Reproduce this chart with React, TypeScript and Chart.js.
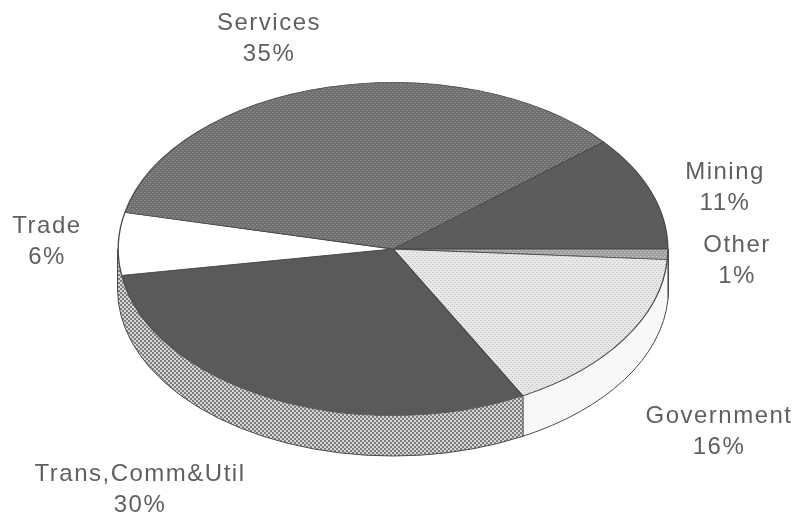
import { useEffect, useRef } from "react";
import { Chart, registerables } from "chart.js";

Chart.register(...registerables);

// Industry shares, in percent, clockwise from the Services/Mining edge.
const industries = ["Mining", "Other", "Government", "Trans,Comm&Util", "Trade", "Services"];
const shares = [11, 1, 16, 30, 6, 35];

// Centre of each two-line caption and the baseline of its first line.
const captionAnchors = [
  [725, 179],
  [737, 252],
  [719, 423],
  [140, 481],
  [47, 233],
  [269, 30],
];

const WIDTH = 797;
const HEIGHT = 515;
const CX = 393;
const CY = 249;
const RX = 275.5;
const RY = 167;
const DEPTH = 40;
const PAD_RADIUS = 249;
const SX = RX / PAD_RADIUS;
const SY = RY / PAD_RADIUS;

// Builds a small halftone tile: a base grey with a regular dot grid on top.
function halftone(base: string, dot: string, dotSize: number, undoScale: boolean) {
  const tile = document.createElement("canvas");
  tile.width = 4;
  tile.height = 4;
  const t = tile.getContext("2d")!;
  t.fillStyle = base;
  t.fillRect(0, 0, 4, 4);
  t.fillStyle = dot;
  t.fillRect(0, 0, dotSize, dotSize);
  t.fillRect(2, 2, dotSize, dotSize);
  const pattern = t.createPattern(tile, "repeat")!;
  if (undoScale) pattern.setTransform(new DOMMatrix().scale(1 / SX, 1 / SY));
  return pattern;
}

export default function App() {
  const ref = useRef<HTMLCanvasElement>(null);

  useEffect(() => {
    const canvas = ref.current!;
    const topFills = [
      "#5c5c5c",
      halftone("#a0a0a0", "#d8d8d8", 1, true),
      halftone("#e8e8e8", "#b8b8b8", 1, true),
      "#5a5a5a",
      "#ffffff",
      halftone("#707070", "#9e9e9e", 1, true),
    ];
    const stipple = halftone("#d6d6d6", "#7c7c7c", 2, false);
    const sideFills = ["#ffffff", "#fbfbfb", "#f8f8f8", stipple, stipple, stipple];

    const extruded = {
      id: "extruded",
      beforeDatasetsDraw(chart: Chart) {
        const ctx = chart.ctx;
        const arcs = chart.getDatasetMeta(0).data as any[];
        ctx.strokeStyle = "#4a4a4a";
        ctx.lineWidth = 1;
        // Rim below the front half of the disc.
        arcs.forEach((arc, i) => {
          const start = Math.max(arc.startAngle, 0);
          const end = Math.min(arc.endAngle, Math.PI);
          if (start >= end) return;
          ctx.beginPath();
          ctx.ellipse(CX, CY, RX, RY, 0, start, end);
          ctx.ellipse(CX, CY + DEPTH, RX, RY, 0, end, start, true);
          ctx.closePath();
          ctx.fillStyle = sideFills[i];
          ctx.fill();
          ctx.beginPath();
          ctx.ellipse(CX, CY + DEPTH, RX, RY, 0, start, end);
          if (start > 0 && end < Math.PI) {
            const x = CX + RX * Math.cos(start);
            const y = CY + RY * Math.sin(start);
            ctx.moveTo(x, y);
            ctx.lineTo(x, y + DEPTH);
          }
          ctx.stroke();
        });
        // Outer silhouette of the rim at the two extremes of the disc.
        ctx.beginPath();
        ctx.moveTo(CX - RX, CY);
        ctx.lineTo(CX - RX, CY + DEPTH);
        ctx.moveTo(CX + RX, CY);
        ctx.lineTo(CX + RX, CY + DEPTH);
        ctx.stroke();
        // Squash the round pie into the tilted ellipse.
        const arc = arcs[0];
        ctx.save();
        ctx.translate(CX, CY);
        ctx.scale(SX, SY);
        ctx.translate(-arc.x, -arc.y);
      },
      afterDatasetsDraw(chart: Chart) {
        chart.ctx.restore();
      },
      afterDraw(chart: Chart) {
        const ctx = chart.ctx as any;
        ctx.save();
        ctx.font = '24px "Liberation Sans"';
        ctx.letterSpacing = "1.5px";
        ctx.fillStyle = "#5f5f5f";
        ctx.textAlign = "center";
        ctx.textBaseline = "alphabetic";
        industries.forEach((name, i) => {
          const [x, y] = captionAnchors[i];
          ctx.fillText(name, x, y);
          ctx.fillText(`${shares[i]}%`, x, y + 31);
        });
        ctx.restore();
      },
    };

    const chart = new Chart(canvas, {
      type: "pie",
      data: {
        labels: industries,
        datasets: [
          {
            data: shares,
            backgroundColor: topFills,
            borderColor: "#4a4a4a",
            borderWidth: 1.2,
            clip: false,
          } as any,
        ],
      },
      options: {
        responsive: false,
        animation: false,
        rotation: 50,
        layout: {
          padding: {
            left: CX - PAD_RADIUS,
            right: WIDTH - CX - PAD_RADIUS,
            top: CY - PAD_RADIUS,
            bottom: HEIGHT - CY - PAD_RADIUS,
          },
        },
        plugins: { legend: { display: false }, tooltip: { enabled: false } },
      },
      plugins: [extruded],
    });
    return () => chart.destroy();
  }, []);

  return (
    <div style={{ position: "absolute", left: 0, top: 0, width: WIDTH, height: HEIGHT, background: "#fff" }}>
      <canvas ref={ref} width={WIDTH} height={HEIGHT} style={{ display: "block" }} />
    </div>
  );
}
